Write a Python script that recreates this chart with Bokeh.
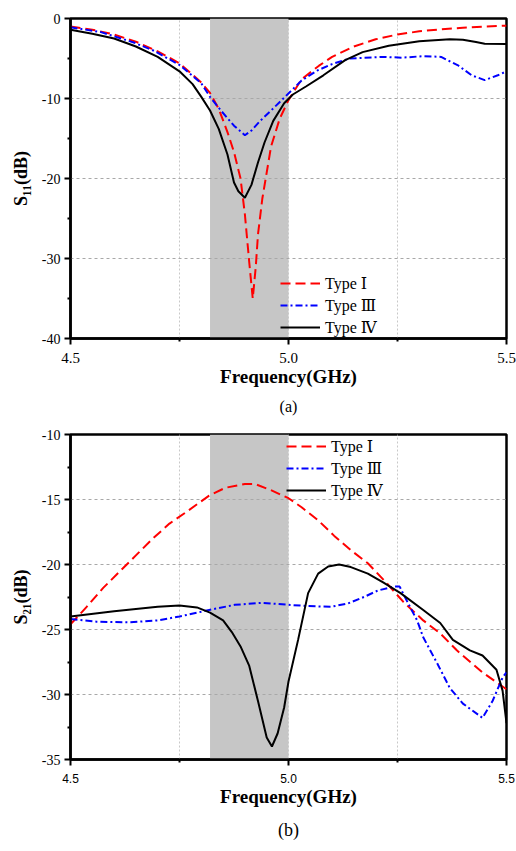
from bokeh.plotting import figure
from bokeh.layouts import column
from bokeh.models import (Range1d, FixedTicker, NumeralTickFormatter, BoxAnnotation,
                          Legend, LegendItem, Title)
from bokeh.embed import file_html
from bokeh.resources import INLINE

# ---------------- data: (a) S11 ----------------
band = [4.82, 5.0]

a_f1 = [4.50, 4.55, 4.60, 4.65, 4.70, 4.75, 4.80, 4.82, 4.84, 4.86, 4.875, 4.89, 4.90, 4.91, 4.918,
        4.925, 4.93, 4.94, 4.96, 4.98, 5.00, 5.03, 5.07, 5.10, 5.15, 5.20, 5.25, 5.30, 5.35, 5.40, 5.45, 5.50]
a_s1 = [-1.0, -1.4, -2.0, -2.9, -4.1, -5.6, -8.0, -9.3, -11.3, -14.2, -16.7, -20.0, -24.5, -30.5, -35.0,
        -31.0, -27.0, -22.5, -16.0, -12.5, -10.2, -7.6, -5.9, -4.8, -3.5, -2.6, -2.0, -1.6, -1.35, -1.15, -1.0, -0.9]

a_f3 = [4.50, 4.57, 4.645, 4.69, 4.75, 4.80, 4.82, 4.845, 4.875, 4.90, 4.915, 4.935, 4.96, 4.99, 5.03,
        5.066, 5.10, 5.14, 5.22, 5.26, 5.31, 5.35, 5.39, 5.42, 5.45, 5.48, 5.50]
a_s3 = [-1.1, -1.7, -3.0, -4.0, -5.8, -8.1, -9.8, -11.5, -13.4, -14.6, -14.0, -12.8, -11.5, -9.9, -7.75,
        -6.5, -5.7, -5.0, -4.8, -4.9, -4.7, -4.8, -5.9, -7.1, -7.7, -7.1, -6.6]

a_f4 = [4.50, 4.55, 4.60, 4.65, 4.70, 4.75, 4.78, 4.80, 4.82, 4.84, 4.86, 4.875, 4.885, 4.90, 4.915,
        4.93, 4.945, 4.965, 4.99, 5.01, 5.04, 5.08, 5.13, 5.17, 5.23, 5.30, 5.37, 5.40, 5.43, 5.45, 5.50]
a_s4 = [-1.4, -1.9, -2.5, -3.5, -4.8, -6.6, -8.2, -9.8, -11.5, -13.8, -17.0, -20.5, -21.6, -22.4, -20.8,
        -18.0, -15.5, -12.8, -10.6, -9.5, -8.5, -7.1, -5.2, -4.2, -3.4, -2.85, -2.6, -2.65, -2.95, -3.15, -3.2]

# ---------------- data: (b) S21 ----------------
b_f1 = [4.50, 4.536, 4.575, 4.614, 4.65, 4.689, 4.727, 4.764, 4.818, 4.855, 4.90, 4.923, 4.961, 5.00,
        5.03, 5.068, 5.105, 5.143, 5.182, 5.227, 5.264, 5.309, 5.348, 5.386, 5.445, 5.50]
b_s1 = [-24.6, -23.3, -21.8, -20.5, -19.3, -18.0, -16.85, -16.0, -14.7, -14.1, -13.8, -13.8, -14.3, -14.9,
        -15.6, -16.6, -17.8, -18.9, -19.9, -21.5, -22.9, -24.3, -25.3, -26.6, -28.3, -29.6]

b_f3 = [4.50, 4.56, 4.636, 4.70, 4.75, 4.818, 4.877, 4.939, 5.00, 5.045, 5.098, 5.136, 5.173, 5.205,
        5.241, 5.255, 5.273, 5.295, 5.309, 5.341, 5.37, 5.40, 5.445, 5.468, 5.491, 5.50]
b_s3 = [-24.2, -24.4, -24.45, -24.3, -24.0, -23.5, -23.1, -22.95, -23.1, -23.2, -23.25, -23.0, -22.5, -22.0,
        -21.7, -21.7, -22.9, -24.3, -25.6, -27.6, -29.5, -30.7, -31.8, -30.5, -28.7, -28.3]

b_f4 = [4.50, 4.60, 4.70, 4.75, 4.79, 4.82, 4.85, 4.87, 4.89, 4.91, 4.93, 4.95, 4.962, 4.975, 4.99,
        5.00, 5.022, 5.045, 5.068, 5.091, 5.116, 5.143, 5.182, 5.218, 5.257, 5.309, 5.348, 5.377, 5.416,
        5.445, 5.477, 5.491, 5.50]
b_s4 = [-24.0, -23.6, -23.25, -23.15, -23.3, -23.7, -24.3, -25.2, -26.3, -27.8, -30.5, -33.3, -34.0, -33.0,
        -31.0, -29.0, -25.8, -22.2, -20.7, -20.15, -20.0, -20.2, -20.7, -21.4, -22.2, -23.5, -24.5, -25.8,
        -26.6, -27.0, -28.1, -29.7, -32.2]

legend_labels = ["Type \u2160", "Type \u2162", "Type \u2163"]

SERIF = "'Liberation Serif', 'DejaVu Serif', 'Noto Sans CJK SC', serif"
SANS = "'Liberation Sans', sans-serif"
W = 516


def make_panel(height, left, right, top, bottom, yr, yticks, yminor, xfont, xfont_size, ylabel,
               caption, cap_size, cap_offset, cap_standoff):
    p = figure(width=W, height=height, output_backend="svg", toolbar_location=None,
               x_range=Range1d(4.5, 5.5), y_range=Range1d(*yr),
               min_border_left=left, min_border_right=right,
               min_border_top=top, min_border_bottom=bottom)
    p.background_fill_color = "white"
    p.border_fill_color = "white"
    p.outline_line_color = "black"
    p.outline_line_width = 2.5
    p.xaxis.ticker = FixedTicker(ticks=[4.5, 5.0, 5.5], minor_ticks=[4.75, 5.25])
    p.xaxis.formatter = NumeralTickFormatter(format="0.0")
    p.yaxis.ticker = FixedTicker(ticks=yticks, minor_ticks=yminor)
    p.yaxis.formatter = NumeralTickFormatter(format="0")
    for ax in (p.xaxis[0], p.yaxis[0]):
        ax.axis_line_width = 2.5
        ax.axis_line_color = "black"
        ax.major_tick_line_width = 2
        ax.minor_tick_line_width = 2
        ax.major_tick_out = 6
        ax.major_tick_in = 0
        ax.minor_tick_out = 3
        ax.minor_tick_in = 0
        ax.major_label_text_color = "black"
        ax.axis_label_text_font = SERIF
        ax.axis_label_text_font_style = "bold"
        ax.axis_label_text_color = "black"
    p.yaxis.major_label_text_font = SERIF
    p.yaxis.major_label_text_font_size = "14px"
    p.yaxis.major_label_standoff = 4
    p.yaxis.axis_label = ylabel
    p.yaxis.axis_label_text_font_size = "18px"
    p.yaxis.axis_label_standoff = 8
    p.xaxis.major_label_text_font = xfont
    p.xaxis.major_label_text_font_size = xfont_size
    p.xaxis.major_label_standoff = 8
    p.xaxis.axis_label = "Frequency(GHz)"
    p.xaxis.axis_label_text_font_size = "19px"
    p.xaxis.axis_label_standoff = 0
    p.xgrid.grid_line_color = "#c8c8c8"
    p.xgrid.grid_line_dash = "2 2"
    p.xgrid.minor_grid_line_color = "#c8c8c8"
    p.xgrid.minor_grid_line_dash = "2 2"
    p.ygrid.grid_line_color = "#a8a8a8"
    p.ygrid.grid_line_dash = "3 3"
    p.add_layout(BoxAnnotation(left=band[0], right=band[1], fill_color="#c6c6c6", fill_alpha=1.0,
                               line_alpha=0, level="image"))
    p.add_layout(Title(text=caption, align="center", offset=cap_offset, standoff=cap_standoff,
                       text_font=SERIF, text_font_size=cap_size, text_font_style="normal",
                       text_color="black"), "below")
    return p


def add_curves(p, f1, s1, f3, s3, f4, s4, loc):
    r1 = p.line(f1, s1, line_color="#ff0000", line_width=2, line_dash="10 5")
    r3 = p.line(f3, s3, line_color="#0000ff", line_width=2, line_dash="7 3 2 3")
    r4 = p.line(f4, s4, line_color="black", line_width=2)
    leg = Legend(items=[LegendItem(label=legend_labels[0], renderers=[r1]),
                        LegendItem(label=legend_labels[1], renderers=[r3]),
                        LegendItem(label=legend_labels[2], renderers=[r4])],
                 location=loc, glyph_width=40, glyph_height=22, label_height=22, spacing=0,
                 padding=0, margin=0, label_standoff=5, border_line_alpha=0,
                 background_fill_alpha=0, label_text_font=SERIF, label_text_font_size="16px",
                 label_text_color="black")
    p.add_layout(leg)


# ---------- panel (a) ----------
pa = make_panel(428, 70, W - 70 - 436, 18, 90, (-40, 0), [0, -10, -20, -30, -40],
                [-5, -15, -25, -35], SERIF, "15px", "S\u2081\u2081(dB)", "(a)", "16px", -16, 12)
add_curves(pa, a_f1, a_s1, a_f3, a_s3, a_f4, a_s4, (210, 0))

# ---------- panel (b) ----------
pb = make_panel(423, 67, W - 67 - 440, 6, 92, (-35, -10), [-10, -15, -20, -25, -30, -35],
                [-12.5, -17.5, -22.5, -27.5, -32.5], SANS, "12px", "S\u2082\u2081(dB)",
                "(b)", "18px", -13, 17)
add_curves(pb, b_f1, b_s1, b_f3, b_s3, b_f4, b_s4, (216, 258))

layout = column(pa, pb, spacing=0)
open("out.html", "w").write(file_html(layout, INLINE))
